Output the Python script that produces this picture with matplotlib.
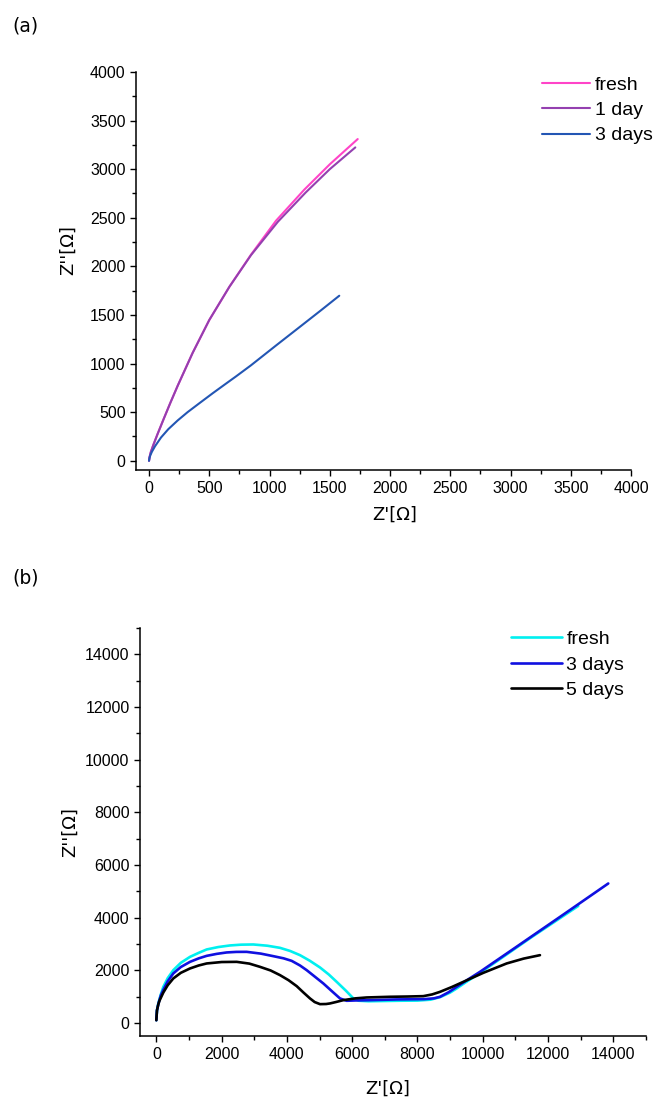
import matplotlib
matplotlib.use("Agg")
import matplotlib.pyplot as plt
from matplotlib.ticker import MultipleLocator

# ---- panel (a): impedance, first sample set ----
a_labels = ["fresh", "1 day", "3 days"]
a_colors = ["#FF44C8", "#9440B0", "#2356B4"]
a_fresh_x = [0, 5, 15, 35, 70, 120, 175, 238, 362, 500, 667, 846, 1054, 1289, 1500, 1732]
a_fresh_y = [0, 40, 90, 160, 272, 425, 590, 772, 1110, 1448, 1790, 2120, 2470, 2790, 3050, 3310]
a_day1_x = [0, 5, 15, 35, 70, 120, 175, 238, 362, 500, 667, 846, 1070, 1300, 1500, 1712]
a_day1_y = [0, 40, 90, 160, 272, 425, 590, 772, 1110, 1448, 1790, 2115, 2460, 2760, 3000, 3224]
a_day3_x = [0, 4, 12, 25, 50, 100, 160, 238, 320, 418, 530, 639, 722, 846, 1054,
            1250, 1427, 1579]
a_day3_y = [0, 30, 60, 95, 150, 240, 325, 415, 500, 592, 696, 794, 868, 982, 1186,
            1376, 1548, 1698]

# ---- panel (b): impedance, second sample set ----
b_labels = ["fresh", "3 days", "5 days"]
b_colors = ["#00F0F0", "#1010E0", "#000000"]
b_fresh_x = [0, 20, 61, 130, 214, 350, 520, 750, 1032, 1300, 1543, 1900, 2257, 2600,
             2971, 3400, 3789, 4100, 4401, 4700, 5014, 5280, 5525, 5800, 6034, 6200,
             6500, 7000, 7500, 8000, 8400, 8700, 9000, 9200, 9500, 9813, 10500, 11500,
             12925]
b_fresh_y = [100, 480, 737, 1050, 1367, 1700, 2001, 2280, 2507, 2660, 2788, 2880, 2940,
             2970, 2977, 2930, 2849, 2730, 2571, 2360, 2103, 1840, 1557, 1230, 930, 840,
             820, 830, 840, 845, 880, 980, 1150, 1306, 1560, 1812, 2400, 3260,
             4440]
b_day3_x = [0, 20, 80, 140, 214, 350, 520, 750, 1032, 1300, 1543, 1850, 2155, 2450,
            2768, 3200, 3584, 3900, 4146, 4400, 4606, 4850, 5116, 5380, 5626, 5830,
            6100, 6500, 7362, 8200, 8500, 8689, 8950, 9200, 9550, 9914, 11000, 12500,
            13844]
b_day3_y = [100, 480, 800, 1050, 1250, 1580, 1876, 2120, 2317, 2450, 2545, 2620, 2674,
            2695, 2697, 2630, 2533, 2450, 2355, 2180, 2001, 1760, 1496, 1200, 927, 838,
            850, 860, 889, 900, 930, 988, 1160, 1367, 1650, 1937, 2860, 4140,
            5294]
b_day5_x = [0, 20, 60, 100, 214, 350, 520, 750, 1032, 1300, 1543, 2000, 2462, 2850,
            3176, 3500, 3789, 4050, 4300, 4500, 4708, 4850, 5014, 5200, 5320, 5500,
            5728, 6100, 6444, 7158, 7700, 8178, 8450, 8689, 9050, 9403, 10015, 10732,
            11250, 11752]
b_day5_y = [100, 470, 700, 850, 1150, 1430, 1686, 1900, 2066, 2180, 2256, 2310, 2317,
            2250, 2127, 1990, 1812, 1620, 1394, 1160, 927, 790, 710, 715, 737, 790,
            862, 930, 964, 990, 1000, 1014, 1080, 1177, 1360, 1557, 1899, 2256,
            2440, 2571]

W, H = 655, 1099
plt.rcParams["font.family"] = ["Liberation Sans", "DejaVu Sans"]
LABEL_FONT = ["DejaVu Sans"]

fig = plt.figure(figsize=(W / 100, H / 100), dpi=100)


def rect(l, t, r, b):
    return [l / W, 1 - b / H, (r - l) / W, (b - t) / H]


def style_axes(ax, major, minor):
    for s in ("top", "right"):
        ax.spines[s].set_visible(False)
    for s in ("left", "bottom"):
        ax.spines[s].set_linewidth(1.1)
    ax.xaxis.set_major_locator(MultipleLocator(major))
    ax.xaxis.set_minor_locator(MultipleLocator(minor))
    ax.yaxis.set_major_locator(MultipleLocator(major))
    ax.yaxis.set_minor_locator(MultipleLocator(minor))
    ax.tick_params(which="major", direction="out", length=4.5, width=1.0, labelsize=11.5)
    ax.tick_params(which="minor", direction="out", length=2.8, width=1.0)
    ax.tick_params(axis="x", pad=3.5)
    ax.tick_params(axis="y", pad=3)


legend_kw = dict(loc="upper left", frameon=False, borderpad=0, borderaxespad=0,
                 handletextpad=0.25, labelspacing=0.4, prop={"size": 14})

# panel (a)
ax1 = fig.add_axes(rect(136, 72, 631, 470))
for xs, ys, lab, col in zip([a_fresh_x, a_day1_x, a_day3_x],
                            [a_fresh_y, a_day1_y, a_day3_y], a_labels, a_colors):
    ax1.plot(xs, ys, color=col, lw=1.5, label=lab, solid_capstyle="round")
ax1.set_xlim(-108, 4000)
ax1.set_ylim(-95, 4000)
style_axes(ax1, 500, 250)
ax1.set_xlabel("Z'[Ω]", fontsize=13, family=LABEL_FONT)
ax1.set_ylabel("Z''[Ω]", fontsize=13, family=LABEL_FONT)
ax1.xaxis.set_label_coords(0.523, -0.09)
ax1.yaxis.set_label_coords(-0.119, 0.553)
ax1.legend(bbox_to_anchor=(541.7 / W, 1 - 76 / H), bbox_transform=fig.transFigure,
           handlelength=2.5, **legend_kw)
fig.text(12 / W, 1 - 26 / H, "(a)", fontsize=13.5, family=LABEL_FONT, va="center")

# panel (b)
ax2 = fig.add_axes(rect(140, 628, 646, 1036))
for xs, ys, lab, col in zip([b_fresh_x, b_day3_x, b_day5_x],
                            [b_fresh_y, b_day3_y, b_day5_y], b_labels, b_colors):
    ax2.plot(xs, ys, color=col, lw=1.9, label=lab, solid_capstyle="round")
ax2.set_xlim(-500, 15000)
ax2.set_ylim(-500, 15000)
style_axes(ax2, 2000, 1000)
ax2.set_xlabel("Z'[Ω]", fontsize=13, family=LABEL_FONT)
ax2.set_ylabel("Z''[Ω]", fontsize=13, family=LABEL_FONT)
ax2.xaxis.set_label_coords(0.49, -0.108)
ax2.yaxis.set_label_coords(-0.12, 0.5)
ax2.legend(bbox_to_anchor=(511 / W, 1 - 630.5 / H), bbox_transform=fig.transFigure,
           handlelength=2.6, **legend_kw)
fig.text(12 / W, 1 - 578 / H, "(b)", fontsize=13.5, family=LABEL_FONT, va="center")

fig.savefig("out.png", dpi=100)
